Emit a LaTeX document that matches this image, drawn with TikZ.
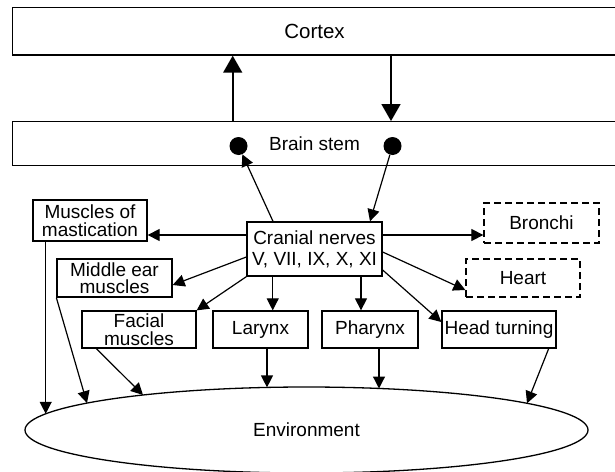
\documentclass[tikz,border=0pt]{standalone}
\usepackage{fontspec}
\setmainfont{Liberation Sans}
\usetikzlibrary{arrows.meta,shapes.geometric,calc}
\begin{document}
\begin{tikzpicture}[x=1pt,y=-1pt,
  box/.style={draw,line width=1.3pt,rectangle,inner sep=0pt,align=center,font=\fontsize{19}{17.5}\selectfont},
  dbox/.style={box,dash pattern=on 7pt off 4pt},
  arr/.style={line width=1.2pt,-{Triangle[length=12pt,width=12pt]}},
  bigarr/.style={line width=1.6pt,-{Triangle[length=17pt,width=19pt]}},
  dot/.style={circle,fill=black,draw=none,inner sep=0pt,minimum size=18pt}]
\useasboundingbox (0,0) rectangle (615,471);

\node[box,minimum width=603.5pt,minimum height=47.7pt,font=\fontsize{20.5}{24}\selectfont] (cortex) at (314.5,31.2) {Cortex};
\node[box,minimum width=603.5pt,minimum height=44pt] (brainstem) at (314.5,143.7) {Brain stem};
\node[dot] (d1) at (238.5,146) {};
\node[dot] (d2) at (392.5,146) {};

\node[box,minimum width=135pt,minimum height=54pt,font=\fontsize{19}{21}\selectfont] (cranial) at (314.5,249) {Cranial nerves\\V, VII, IX, X, XI};
\node[box,minimum width=114pt,minimum height=41pt] (mast) at (90,220.5) {Muscles of\\mastication};
\node[box,minimum width=115pt,minimum height=38pt] (midear) at (114.5,278) {Middle ear\\muscles};
\node[box,minimum width=114pt,minimum height=37pt] (facial) at (139,329.5) {Facial\\muscles};
\node[box,minimum width=95pt,minimum height=37pt] (larynx) at (260.5,329.5) {Larynx};
\node[box,minimum width=96pt,minimum height=37pt] (pharynx) at (370,329.5) {Pharynx};
\node[box,minimum width=114pt,minimum height=37pt] (head) at (499,329.5) {Head turning};
\node[dbox,minimum width=115pt,minimum height=40pt] (bronchi) at (541.5,223) {Bronchi};
\node[dbox,minimum width=114pt,minimum height=38pt] (heart) at (523,278) {Heart};
\node[draw,ellipse,line width=1.3pt,inner sep=0pt,minimum width=563pt,minimum height=86pt,font=\fontsize{19}{21}\selectfont] (env) at (306.5,430) {Environment};

% cortex <-> brain stem
\draw[bigarr] ([xshift=-81.8pt]brainstem.north) -- ([xshift=-81.8pt]cortex.south);
\draw[bigarr] ([xshift=76.5pt]cortex.south) -- ([xshift=76.5pt]brainstem.north);

% brain stem <-> cranial nerves
\draw[arr] ([xshift=-41.5pt]cranial.north) -- (d1);
\draw[arr] (d2) -- ([xshift=55.5pt]cranial.north);

% cranial nerves -> effectors
\draw[arr] ([yshift=14pt]cranial.west) -- ([yshift=-14.5pt]mast.east);
\draw[arr] ([yshift=-8pt]cranial.west) -- ([yshift=-7pt]midear.east);
\draw[arr] (cranial.south west) -- (facial.north east);
\draw[arr] ([xshift=-41.8pt]cranial.south) -- ([xshift=12.2pt]larynx.north);
\draw[arr] ([xshift=46.5pt]cranial.south) -- ([xshift=-9pt]pharynx.north);
\draw[arr] ([yshift=-21pt]cranial.east) -- ([yshift=7.5pt]head.west);
\draw[arr] ([yshift=-3pt]cranial.east) -- ([yshift=-12pt]heart.west);
\draw[arr] ([yshift=14pt]cranial.east) -- ([yshift=-12pt]bronchi.west);

% effectors -> environment
\draw[arr] ([xshift=-44.3pt]mast.south) -- ($(env.center)+(-260.8,-16.2)$);
\draw[arr] (midear.south west) -- ($(env.center)+(-219.5,-26.9)$);
\draw[arr] ([xshift=15pt]facial.south west) -- ($(env.center)+(-163.5,-35)$);
\draw[arr] ([xshift=6.5pt]larynx.south) -- ($(env.center)+(-39.5,-42.6)$);
\draw[arr] ([xshift=9pt]pharynx.south) -- ($(env.center)+(72.5,-41.5)$);
\draw[arr] ([xshift=-8pt]head.south east) -- ($(env.center)+(220.5,-26.7)$);
\end{tikzpicture}
\end{document}
